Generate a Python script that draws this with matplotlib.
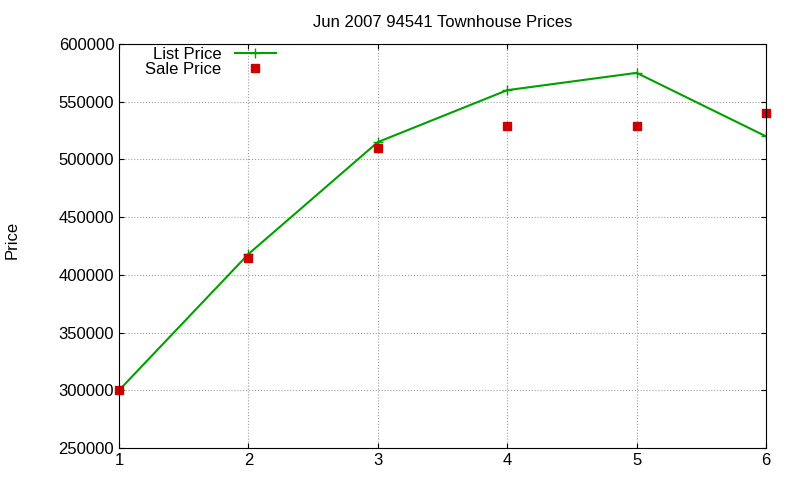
import matplotlib.pyplot as plt

plt.rcParams['font.family'] = ['Liberation Sans', 'DejaVu Sans']

# data
months = [1, 2, 3, 4, 5, 6]
list_price = [300000, 418000, 515000, 560000, 575000, 520000]
sale_price = [300000, 415000, 510000, 529000, 529000, 540000]

fig = plt.figure(figsize=(8, 4.8), dpi=100)
ax = fig.add_axes([119/800, 1 - 448/480, (766-119)/800, (448-44)/480])

ax.plot(months, list_price, color="#00a000", marker="+", markersize=7, lw=1.5,
        label="List Price")
ax.plot(months, sale_price, color="#cc0000", marker="s", markersize=6, ls="none",
        label="Sale Price", clip_on=False)

ax.set_xlim(1, 6)
ax.set_ylim(250000, 600000)
ax.set_xticks(months)
ax.set_yticks(range(250000, 600001, 50000))
ax.tick_params(direction="in", labelsize=12, top=True, right=True)
ax.grid(True, color="#a0a0a0", ls=":", lw=0.8)
ax.set_title("Jun 2007 94541 Townhouse Prices", fontsize=12, pad=12)
fig.text(12/800, 0.5, "Price", rotation=90, va="center", ha="center", fontsize=12)

ax.legend(loc="upper left", markerfirst=False, frameon=False, fontsize=12,
          borderaxespad=0.0, handlelength=2.5, labelspacing=0.0,
          bbox_to_anchor=(0.03, 1.01))

fig.savefig("out.png")
